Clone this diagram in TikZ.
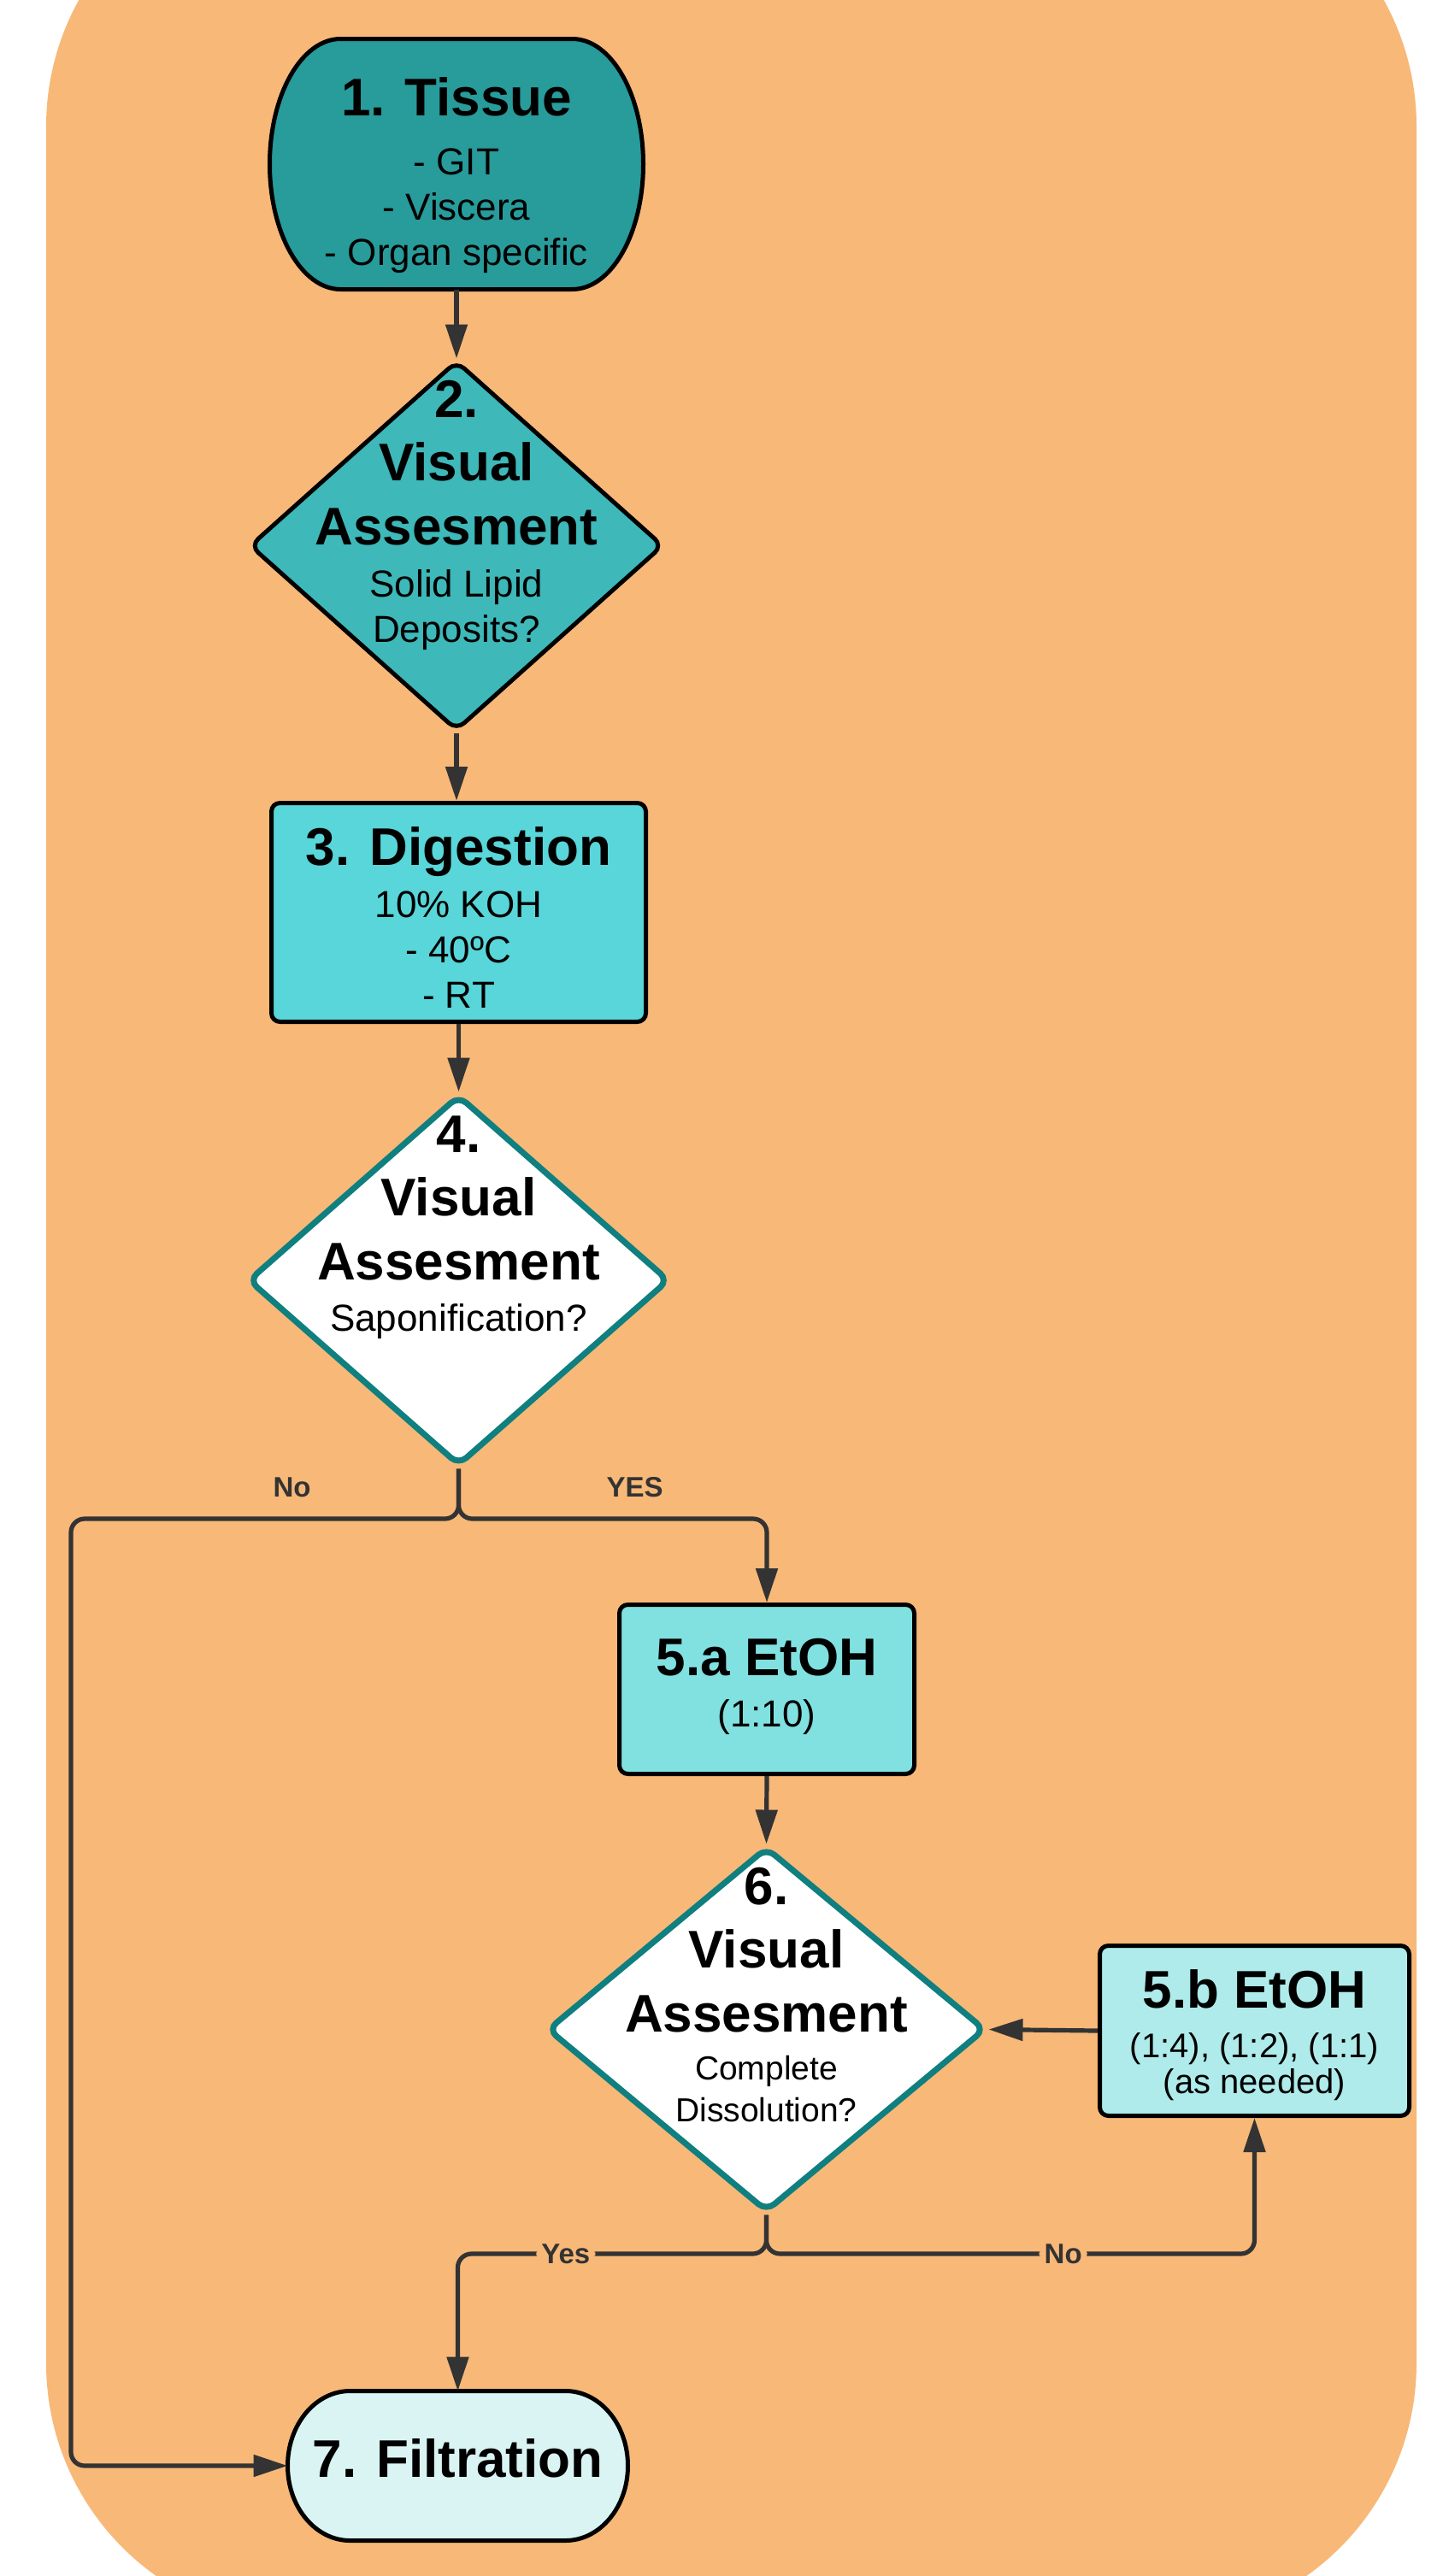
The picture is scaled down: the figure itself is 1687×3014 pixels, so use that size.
\documentclass[tikz,border=0pt]{standalone}
\usepackage{fontspec}
\setmainfont{Liberation Sans}
\usepackage{tikz}
\usetikzlibrary{arrows.meta, shapes.geometric, backgrounds}
\usepackage{xcolor}
\definecolor{bgorange}{HTML}{F8B878}
\definecolor{tissueteal}{HTML}{289B9B}
\definecolor{checkteal}{HTML}{3EB8B9}
\definecolor{digestcyan}{HTML}{58D6D9}
\definecolor{etohcyan}{HTML}{81E0E0}
\definecolor{etohpale}{HTML}{AFEBEB}
\definecolor{filterpale}{HTML}{DAF4F4}
\definecolor{rimteal}{HTML}{0F7F7F}
\definecolor{flowgray}{HTML}{333333}
\newcommand{\ttl}{\fontsize{31pt}{37pt}\selectfont\bfseries}
\newcommand{\bodytxt}{\fontsize{22pt}{26.5pt}\selectfont}
\newcommand{\smalltxt}{\fontsize{19.5pt}{24.5pt}\selectfont}
\newcommand{\etohtxt}{\fontsize{20pt}{21pt}\selectfont}
\newcommand{\flowfont}{\fontsize{16.5pt}{20pt}\selectfont\bfseries}
\newcommand{\gap}[1]{\noalign{\vskip#1}}
% centred lines, first baseline raised by #2 above the node centre
\newcommand{\nodetext}[3][26.5pt]{\makebox[0pt]{\raisebox{#2}[0pt][0pt]{\vtop{%
  \baselineskip=#1\lineskiplimit=-\maxdimen\halign{\hfil##\hfil\cr#3\crcr}}}}}
% terminal outline round node #1: flat half length #2, end depth #3, half height #4
\newcommand{\terminalpath}[4]{%
  ([xshift=-#2]#1.north) -- ([xshift=#2]#1.north)
  arc[start angle=90, end angle=-90, x radius=#3, y radius=#4]
  -- ([xshift=-#2]#1.south)
  arc[start angle=270, end angle=90, x radius=#3, y radius=#4] -- cycle}
\tikzset{
  stepbox/.style={draw=black, line width=2.5pt, rounded corners=5pt, font=\bodytxt, inner sep=0pt},
  terminal/.style={rectangle, font=\bodytxt, inner sep=0pt, outer sep=0pt},
  termline/.style={draw=black, line width=2.5pt},
  check/.style={diamond, draw=black, line width=2.5pt, rounded corners=6pt, font=\bodytxt, inner sep=0pt},
  checkwhite/.style={check, draw=rimteal, line width=3.5pt, fill=white},
  flow/.style={draw=flowgray, line width=2.6pt, rounded corners=8pt, -{Triangle[length=20pt, width=12.5pt]}},
  answer/.style={font=\flowfont, text=flowgray, inner sep=0pt},
  onlabel/.style={answer, fill=bgorange, inner xsep=3pt, inner ysep=1pt},
}

\begin{document}
\begin{tikzpicture}[x=0.5pt, y=-0.5pt]
  \useasboundingbox (0,0) rectangle (1687,3014);
  \clip (0,0) rectangle (1687,3014);
  % Background
  \begin{scope}[on background layer]
    \fill[bgorange, rounded corners=152.5pt] (54,-157) rectangle (1657,3070);
  \end{scope}

  % Steps
  \node[terminal, minimum width=218.5pt, minimum height=146.5pt] (tissue) at (534,192)
    {\nodetext{28.5pt}{\ttl 1. Tissue\cr\gap{8pt}- GIT\cr- Viscera\cr- Organ specific}};
  \node[check, fill=checkteal, minimum width=242pt, minimum height=216.5pt] (lipid) at (534,638.5)
    {\nodetext{75.25pt}{\ttl 2.\cr\gap{10.75pt}\ttl Visual\cr\gap{10.75pt}\ttl Assesment\cr\gap{4pt}Solid Lipid\cr Deposits?}};
  \node[stepbox, fill=digestcyan, minimum width=219pt, minimum height=128pt] (digest) at (536.5,1067.5)
    {\nodetext{27.75pt}{\ttl 3. Digestion\cr\gap{4pt}10\% KOH\cr- 40ºC\cr- RT}};
  \node[checkwhite, minimum width=246.5pt, minimum height=217pt] (sapon) at (536.5,1498)
    {\nodetext{75pt}{\ttl 4.\cr\gap{10.75pt}\ttl Visual\cr\gap{10.75pt}\ttl Assesment\cr\gap{3.5pt}Saponification?}};
  \node[stepbox, fill=etohcyan, minimum width=172.5pt, minimum height=99pt] (etoha) at (897,1976.5)
    {\nodetext{8.25pt}{\ttl 5.a EtOH\cr\gap{3.5pt}(1:10)}};
  \node[checkwhite, font=\smalltxt, minimum width=256.5pt, minimum height=213.5pt] (dissolve) at (896.5,2374.5)
    {\nodetext[24.5pt]{73.25pt}{\ttl 6.\cr\gap{12.75pt}\ttl Visual\cr\gap{12.75pt}\ttl Assesment\cr\gap{3.5pt}Complete\cr Dissolution?}};
  \node[stepbox, fill=etohpale, font=\etohtxt, minimum width=181pt, minimum height=99.5pt] (etohb) at (1467.5,2376)
    {\nodetext[21pt]{13.5pt}{\ttl 5.b EtOH\cr\gap{8pt}(1:4), (1:2), (1:1)\cr(as needed)}};
  \node[terminal, minimum width=199pt, minimum height=87.5pt] (filter) at (535.5,2885)
    {\nodetext{-6.5pt}{\ttl 7. Filtration}};

  % Terminal outlines, behind their text
  \begin{scope}[on background layer]
    \filldraw[termline, fill=tissueteal] \terminalpath{tissue}{67.75pt}{41.5pt}{73.25pt};
    \filldraw[termline, fill=filterpale] \terminalpath{filter}{63pt}{36.5pt}{43.75pt};
  \end{scope}

  % Bends
  \coordinate (sapsplit) at (536.5,1777);
  \coordinate (nobend) at (83,1777);
  \coordinate (dissplit) at (896.5,2637);

  % Connectors
  \draw[flow] (tissue.south) -- (lipid.north);
  \draw[flow] (lipid.south) -- (lipid.south |- digest.north);
  \draw[flow] (digest.south) -- (sapon.north);
  \draw[flow] (sapon.south) -- (sapsplit)
    -- node[answer, pos=0.43, above=11.5pt] {No} (nobend) |- (filter.west);
  \draw[flow] (sapon.south) -- (sapsplit)
    -| node[answer, pos=0.286, above=11.5pt] {YES} (etoha.north);
  \draw[flow] (etoha.south) -- (dissolve.north);
  \draw[flow] (etohb.west) -- (dissolve.east);
  \draw[flow] (dissolve.south) -- (dissplit)
    -| node[onlabel, pos=0.325] {Yes} (filter.north);
  \draw[flow] (dissolve.south) -- (dissplit)
    -| node[onlabel, pos=0.304] {No} (etohb.south);
\end{tikzpicture}
\end{document}
